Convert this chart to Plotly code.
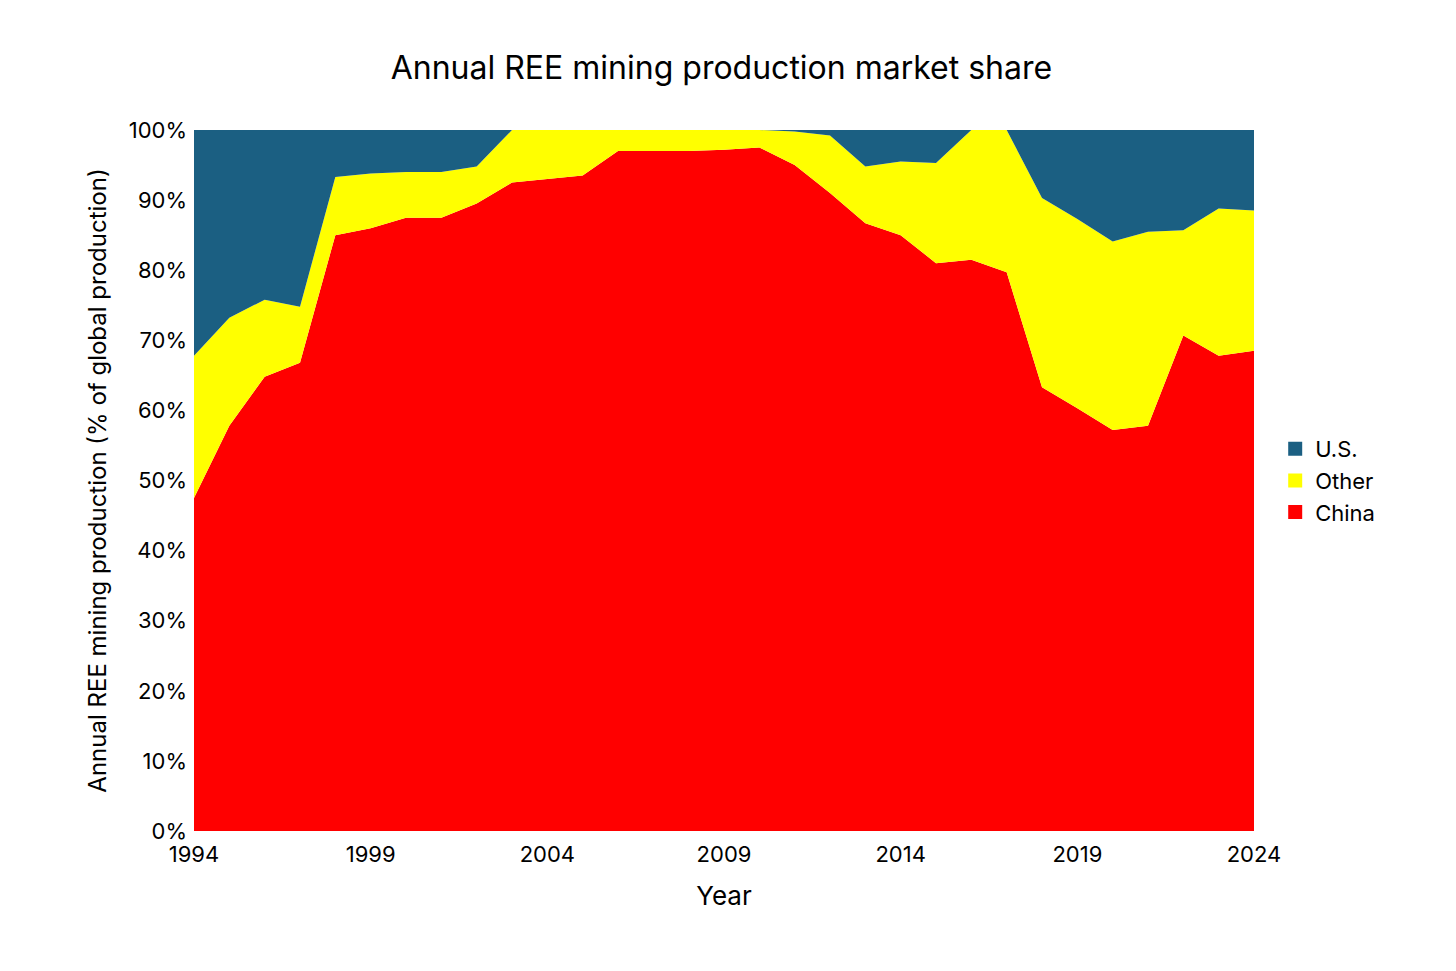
import plotly.graph_objects as go

years = list(range(1994, 2025))
china = [47.5, 57.8, 64.8, 66.8, 85.0, 86.0, 87.5, 87.5, 89.5, 92.5, 93.0, 93.5, 97.0, 97.0, 97.0, 97.2,
         97.5, 95.0, 91.0, 86.7, 85.0, 81.0, 81.5, 79.7, 63.3, 60.3, 57.2, 57.8, 70.7, 67.8, 68.5]
china_other = [67.8, 73.2, 75.8, 74.8, 93.3, 93.8, 94.0, 94.0, 94.8, 100, 100, 100, 100, 100, 100, 100,
               100, 99.8, 99.2, 94.8, 95.5, 95.3, 100, 100, 90.3, 87.3, 84.1, 85.5, 85.7, 88.8, 88.5]
other = [t - c for t, c in zip(china_other, china)]
us = [100 - t for t in china_other]
ytick_vals = list(range(0, 101, 10))
ytick_text = [f"{v}%" for v in ytick_vals]

font = "Inter, Lato, sans-serif"
fig = go.Figure()
series = [("China", china, "#ff0000"), ("Other", other, "#ffff00"), ("U.S.", us, "#1b5f82")]
for name, vals, col in series:
    fig.add_trace(go.Scatter(x=years, y=vals, name=name, stackgroup="one", mode="none",
                             fillcolor=col, showlegend=False))
# legend entries with square swatches
for name, vals, col in series:
    fig.add_trace(go.Scatter(x=[None], y=[None], name=name, mode="markers",
                             marker=dict(symbol="square", size=14, color=col)))

fig.update_layout(
    width=1456, height=971, plot_bgcolor="white", paper_bgcolor="white",
    font=dict(family=font, size=22, color="black"),
    title=dict(text="Annual REE mining production market share", x=0.49, y=0.95,
               font=dict(size=32)),
    margin=dict(l=186, r=210, t=122, b=148),
    legend=dict(traceorder="reversed", x=1.02, y=0.5, yanchor="middle",
                font=dict(size=22), tracegroupgap=0, itemwidth=30),
    xaxis=dict(title=dict(text="Year", font=dict(size=26), standoff=20), range=[1994, 2024],
               tickvals=list(range(1994, 2025, 5)), showgrid=False, zeroline=False,
               ticks="", tickfont=dict(size=22), ticklabelstandoff=8),
    yaxis=dict(title=dict(text="Annual REE mining production (% of global production)", font=dict(size=24)),
               range=[0, 100], tickvals=ytick_vals, ticktext=ytick_text,
               showgrid=False, zeroline=False, tickfont=dict(size=22), ticklabelstandoff=6),
)
fig.write_html("out.html")
